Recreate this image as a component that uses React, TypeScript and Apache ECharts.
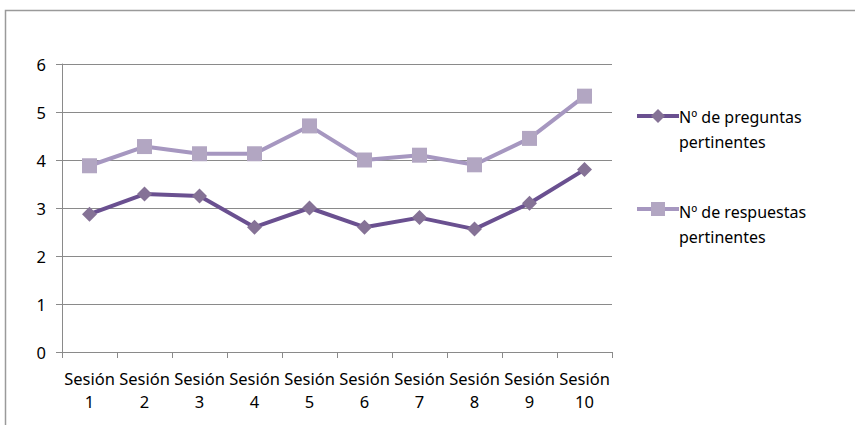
import React, { useEffect, useRef } from "react";
import * as echarts from "echarts";

const categories = ["Sesión\n1", "Sesión\n2", "Sesión\n3", "Sesión\n4", "Sesión\n5", "Sesión\n6", "Sesión\n7", "Sesión\n8", "Sesión\n9", "Sesión\n10"];
const preguntas = [2.87, 3.29, 3.25, 2.6, 3.0, 2.6, 2.8, 2.56, 3.1, 3.8];
const respuestas = [3.88, 4.28, 4.13, 4.13, 4.71, 4.0, 4.1, 3.9, 4.45, 5.33];
const seriesNames = ["Nº de preguntas\npertinentes", "Nº de respuestas\npertinentes"];

const FONT = "'Noto Sans', sans-serif";
const DARK_LINE = "#6a5090";
const DARK_MARK = "#857296";
const LIGHT_LINE = "#a697c0";
const LIGHT_MARK = "#b2a6c2";

export default function App() {
  const ref = useRef<HTMLDivElement>(null);
  useEffect(() => {
    const chart = echarts.init(ref.current!, null, { renderer: "svg" });
    const legendText = (y: number, text: string) => ({
      type: "text",
      left: 679,
      top: y,
      silent: true,
      style: { text, fill: "#000", font: `16px ${FONT}`, lineHeight: 25 },
    });
    chart.setOption({
      animation: false,
      backgroundColor: "#ffffff",
      legend: { show: false, data: seriesNames },
      graphic: [
        {
          type: "rect",
          shape: { x: 5.5, y: 10.5, width: 900, height: 500 },
          style: { fill: "none", stroke: "#9a9a9a", lineWidth: 1.5 },
          silent: true,
        },
        { type: "line", shape: { x1: 637, y1: 116, x2: 679, y2: 116 }, style: { stroke: DARK_LINE, lineWidth: 4 }, silent: true },
        { type: "polygon", shape: { points: [[658, 109], [665, 116], [658, 123], [651, 116]] }, style: { fill: DARK_MARK }, silent: true },
        legendText(104, seriesNames[0]),
        { type: "line", shape: { x1: 637, y1: 209, x2: 679, y2: 209 }, style: { stroke: LIGHT_LINE, lineWidth: 4 }, silent: true },
        { type: "rect", shape: { x: 651, y: 202, width: 14, height: 14 }, style: { fill: LIGHT_MARK }, silent: true },
        legendText(199, seriesNames[1]),
      ],
      grid: { left: 62, right: 243, top: 64, bottom: 73 },
      xAxis: {
        type: "category",
        data: categories,
        boundaryGap: true,
        axisLine: { lineStyle: { color: "#8a8a8a", width: 1 } },
        axisTick: { show: true, interval: 0, length: 6, lineStyle: { color: "#8a8a8a" } },
        axisLabel: { interval: 0, fontFamily: FONT, fontSize: 16.5, color: "#000", lineHeight: 23, margin: 15 },
      },
      yAxis: {
        type: "value",
        min: 0,
        max: 6,
        interval: 1,
        axisLine: { show: true, lineStyle: { color: "#8a8a8a", width: 1 } },
        axisTick: { show: true, length: 6, lineStyle: { color: "#8a8a8a" } },
        axisLabel: { fontFamily: FONT, fontSize: 16.5, color: "#000", margin: 16 },
        splitLine: { show: true, lineStyle: { color: "#8a8a8a", width: 1 } },
      },
      series: [
        {
          name: seriesNames[0],
          type: "line",
          data: preguntas,
          symbol: "diamond",
          symbolSize: 15,
          lineStyle: { color: DARK_LINE, width: 4 },
          itemStyle: { color: DARK_MARK },
          z: 3,
        },
        {
          name: seriesNames[1],
          type: "line",
          data: respuestas,
          symbol: "rect",
          symbolSize: 15,
          lineStyle: { color: LIGHT_LINE, width: 4 },
          itemStyle: { color: LIGHT_MARK },
          z: 2,
        },
      ],
    });
    return () => chart.dispose();
  }, []);
  return (
    <div
      ref={ref}
      style={{ position: "fixed", left: 0, top: 0, width: 855, height: 425 }}
    />
  );
}
